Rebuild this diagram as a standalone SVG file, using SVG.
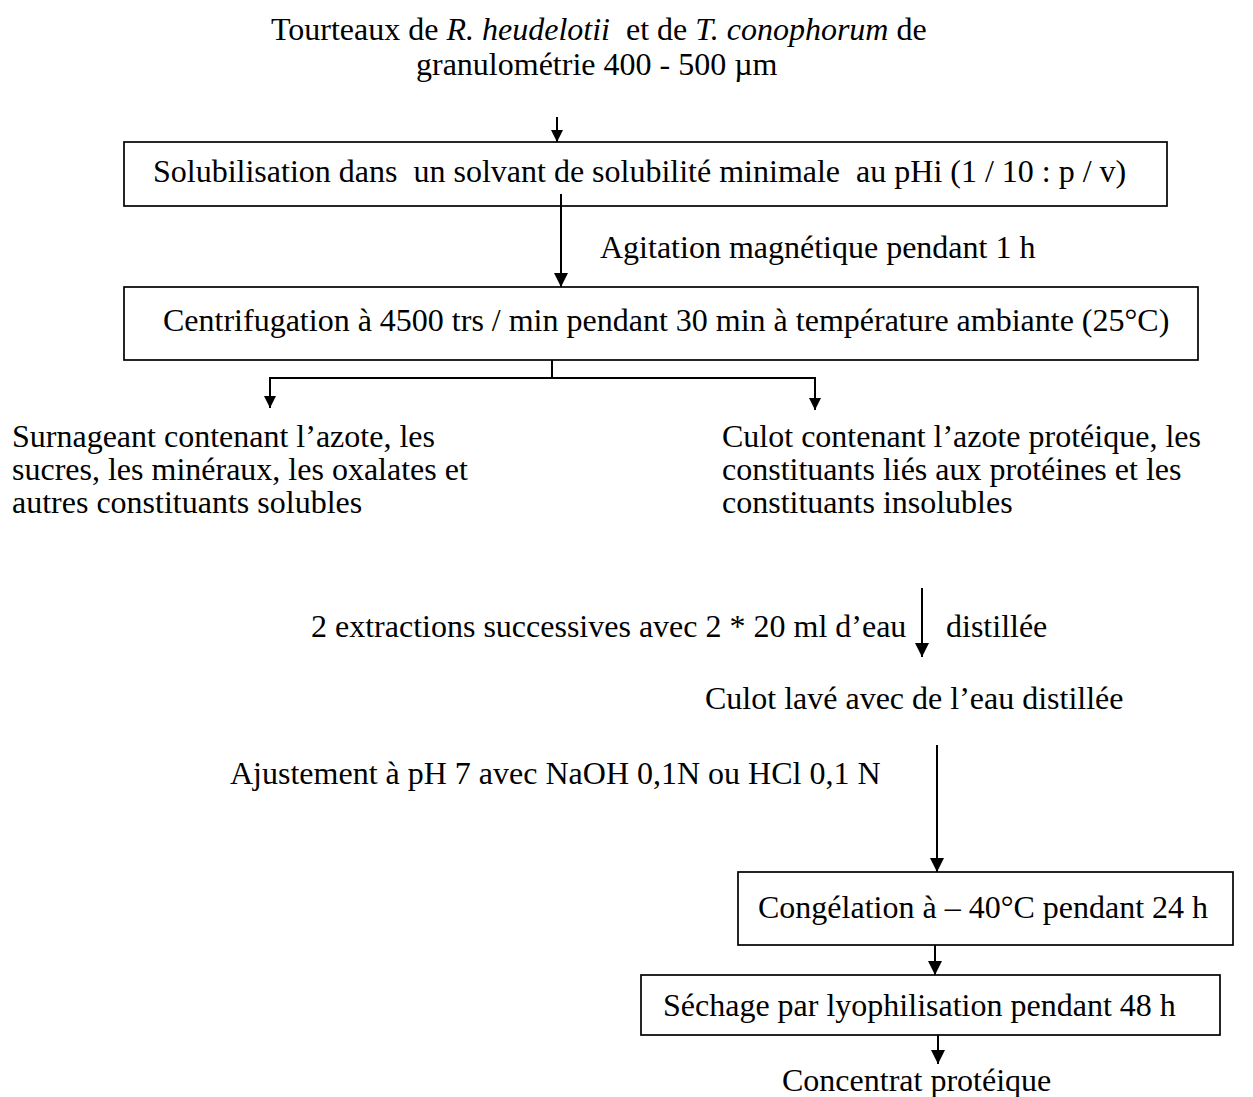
<svg xmlns="http://www.w3.org/2000/svg" width="1253" height="1097" viewBox="0 0 1253 1097">
<style>
text{font-family:"Liberation Serif","Times New Roman",serif;font-size:32px;fill:#000;white-space:pre}
.it{font-style:italic}
.box{fill:#fff;stroke:#000;stroke-width:1.7}
.ln{fill:none;stroke:#000;stroke-width:2}
</style>
<defs>
<marker id="ah" viewBox="0 0 10 10" refX="10" refY="5" markerUnits="userSpaceOnUse" markerWidth="16" markerHeight="14" orient="auto">
<path d="M0,0 L10,5 L0,10 z" fill="#000"/>
</marker>
<marker id="ahs" viewBox="0 0 10 10" refX="10" refY="5" markerUnits="userSpaceOnUse" markerWidth="13" markerHeight="12" orient="auto">
<path d="M0,0 L10,5 L0,10 z" fill="#000"/>
</marker>
</defs>
<rect width="1253" height="1097" fill="#fff"/>
<g id="title">
<text x="271" y="40">Tourteaux de <tspan class="it">R. heudelotii</tspan>  et de <tspan class="it">T. conophorum</tspan> de</text>
<text x="416" y="75">granulométrie 400 - 500 µm</text>
</g>
<g id="n-solubilisation">
<rect class="box" x="124" y="142" width="1043" height="64"/>
<text x="153" y="182">Solubilisation dans  un solvant de solubilité minimale  au pHi (1 / 10 : p / v)</text>
</g>
<g id="n-centrifugation">
<rect class="box" x="124" y="287" width="1074" height="73"/>
<text x="163" y="331">Centrifugation à 4500 trs / min pendant 30 min à température ambiante (25°C)</text>
</g>
<g id="n-surnageant">
<text x="12" y="447">Surnageant contenant l’azote, les</text>
<text x="12" y="480">sucres, les minéraux, les oxalates et</text>
<text x="12" y="513">autres constituants solubles</text>
</g>
<g id="n-culot">
<text x="722" y="447">Culot contenant l’azote protéique, les</text>
<text x="722" y="480">constituants liés aux protéines et les</text>
<text x="722" y="513">constituants insolubles</text>
</g>
<g id="n-culot-lave">
<text x="705" y="709">Culot lavé avec de l’eau distillée</text>
</g>
<g id="n-congelation">
<rect class="box" x="738" y="872" width="495" height="73"/>
<text x="758" y="918">Congélation à – 40°C pendant 24 h</text>
</g>
<g id="n-sechage">
<rect class="box" x="641" y="975" width="579" height="60"/>
<text x="663" y="1016">Séchage par lyophilisation pendant 48 h</text>
</g>
<g id="n-concentrat">
<text x="782" y="1091">Concentrat protéique</text>
</g>
<g id="connectors">
<line class="ln" x1="557" y1="117" x2="557" y2="142" marker-end="url(#ahs)"/>
<line class="ln" x1="561" y1="194" x2="561" y2="287" marker-end="url(#ah)"/>
<text x="600" y="258">Agitation magnétique pendant 1 h</text>
<polyline class="ln" points="552,360 552,378"/>
<polyline class="ln" points="270,378 815,378"/>
<line class="ln" x1="270" y1="377" x2="270" y2="408" marker-end="url(#ahs)"/>
<line class="ln" x1="815" y1="377" x2="815" y2="410" marker-end="url(#ahs)"/>
<line class="ln" x1="922" y1="588" x2="922" y2="657" marker-end="url(#ah)"/>
<text x="311" y="637">2 extractions successives avec 2 * 20 ml d’eau</text>
<text x="946" y="637">distillée</text>
<line class="ln" x1="937" y1="745" x2="937" y2="872" marker-end="url(#ah)"/>
<text x="230" y="784">Ajustement à pH 7 avec NaOH 0,1N ou HCl 0,1 N</text>
<line class="ln" x1="935" y1="945" x2="935" y2="975" marker-end="url(#ah)"/>
<line class="ln" x1="938" y1="1035" x2="938" y2="1064" marker-end="url(#ah)"/>
</g>
</svg>
